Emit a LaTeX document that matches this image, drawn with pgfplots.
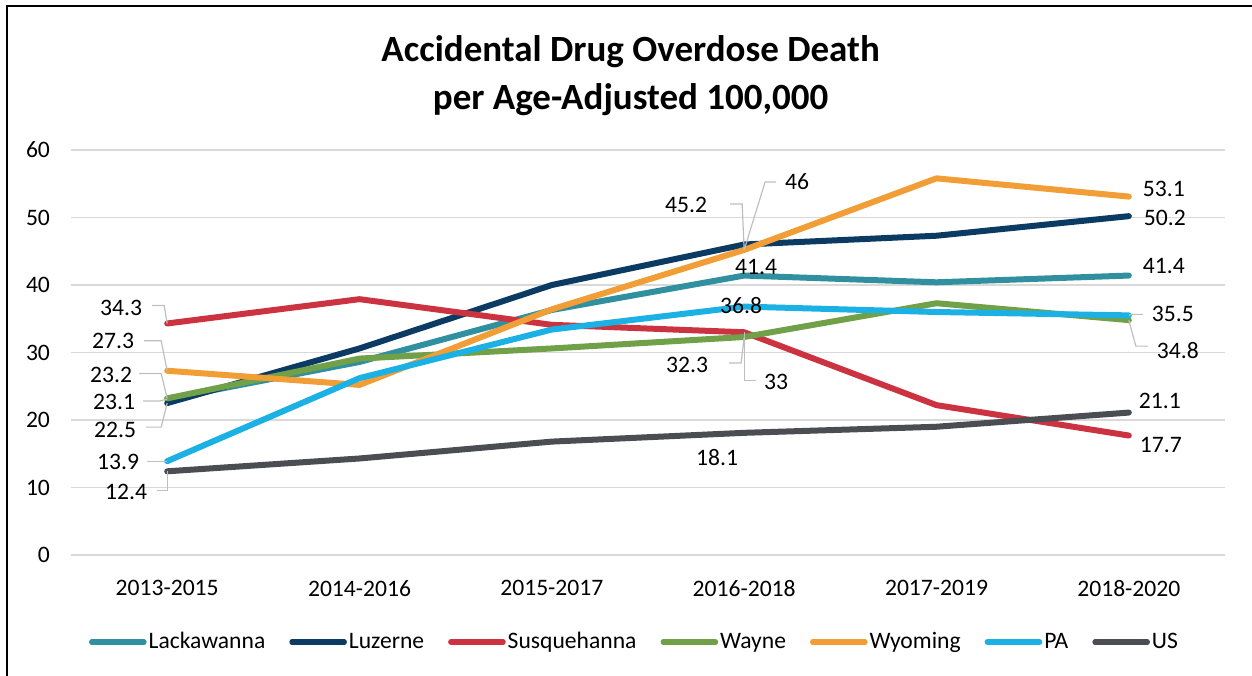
\documentclass[border=0pt]{standalone}
\usepackage{pgfplots}
\pgfplotsset{compat=1.18}
\usepackage{fontspec}
\setmainfont{Carlito}
\definecolor{cLack}{HTML}{31909F}
\definecolor{cLuz}{HTML}{0B3A63}
\definecolor{cSus}{HTML}{CC3340}
\definecolor{cWay}{HTML}{70A047}
\definecolor{cWyo}{HTML}{F09E35}
\definecolor{cPA}{HTML}{1CB1E4}
\definecolor{cUS}{HTML}{4A4D52}
\definecolor{gridgray}{HTML}{D9D9D9}
\definecolor{leadgray}{HTML}{BFBFBF}
\tikzset{
  lbl/.style={font=\fontsize{11.8}{13}\selectfont, inner sep=0pt},
  leader/.style={draw=leadgray, line width=0.6pt},
}
\begin{document}
\begin{tikzpicture}
\path[use as bounding box] (0pt,0pt) rectangle (626pt,337.5pt);
\draw[line width=0.9pt] (3.5pt,-1pt) -- (3.5pt,334.5pt) -- (627pt,334.5pt);
\begin{axis}[
  at={(35.5pt,60pt)}, anchor=south west,
  scale only axis, width=577pt, height=202.5pt,
  xmin=-0.5, xmax=5.5, ymin=0, ymax=60,
  ytick={0,10,...,60},
  xtick={0,...,5},
  xticklabels={2013-2015,2014-2016,2015-2017,2016-2018,2017-2019,2018-2020},
  ymajorgrids, grid style={color=gridgray, line width=0.7pt},
  axis line style={draw=none},
  major tick length=0pt,
  tick label style={font=\fontsize{11.8}{13}\selectfont},
  /pgf/number format/assume math mode=true,
  yticklabel style={xshift=-7pt},
  xticklabel style={yshift=-9pt},
  title={Accidental Drug Overdose Death\\per Age-Adjusted 100,000},
  title style={at={(0.485,1.153)}, anchor=center, align=center,
    font=\fontsize{18.5}{24}\selectfont\bfseries},
  legend columns=-1,
  legend style={at={(0.4883,-0.215)}, anchor=center, draw=none, fill=none,
    font=\fontsize{11.8}{13}\selectfont, nodes={inner sep=1pt},
    /tikz/every even column/.append style={column sep=11pt}},
  legend image code/.code={\draw[#1, line width=2.6pt, line cap=round] (1.3pt,0pt) -- (27.5pt,0pt);},
  every axis plot/.append style={line width=3pt, line cap=round, line join=round, mark=none},
  clip=false,
]
\addplot[cLack] coordinates {(0,23.1) (1,28.6) (2,36.3) (3,41.4) (4,40.4) (5,41.4)};
\addlegendentry{Lackawanna}
\addplot[cLuz] coordinates {(0,22.5) (1,30.6) (2,40.0) (3,46.0) (4,47.3) (5,50.2)};
\addlegendentry{Luzerne}
\addplot[cSus] coordinates {(0,34.3) (1,37.9) (2,34.1) (3,33.0) (4,22.2) (5,17.7)};
\addlegendentry{Susquehanna}
\addplot[cWay] coordinates {(0,23.2) (1,29.1) (2,30.6) (3,32.3) (4,37.3) (5,34.8)};
\addlegendentry{Wayne}
\addplot[cWyo] coordinates {(0,27.3) (1,25.2) (2,36.4) (3,45.2) (4,55.8) (5,53.1)};
\addlegendentry{Wyoming}
\addplot[cPA] coordinates {(0,13.9) (1,26.2) (2,33.4) (3,36.8) (4,36.0) (5,35.5)};
\addlegendentry{PA}
\addplot[cUS] coordinates {(0,12.4) (1,14.3) (2,16.8) (3,18.1) (4,19.0) (5,21.1)};
\addlegendentry{US}

% left labels
\draw[leader] (axis cs:0,34.3) -- ++(-1.5pt,9pt) -- ++(-6pt,0pt);
\node[lbl, xshift=-23pt, yshift=7.75pt] at (axis cs:0,34.3) {34.3};
\draw[leader] (axis cs:0,27.3) -- ++(-3pt,15pt) -- ++(-8.5pt,0pt);
\node[lbl, xshift=-27pt, yshift=15pt] at (axis cs:0,27.3) {27.3};
\draw[leader] (axis cs:0,23.2) -- ++(-3pt,12.5pt) -- ++(-11pt,0pt);
\node[lbl, xshift=-28pt, yshift=11.5pt] at (axis cs:0,23.2) {23.2};
\draw[leader] (axis cs:0,23.1) -- ++(-4pt,-1pt) -- ++(-8pt,0pt);
\node[lbl, xshift=-26.5pt, yshift=-1.5pt] at (axis cs:0,23.1) {23.1};
\draw[leader] (axis cs:0,22.5) -- ++(-3pt,-12pt) -- ++(-7.5pt,0pt);
\node[lbl, xshift=-26pt, yshift=-13.5pt] at (axis cs:0,22.5) {22.5};
\draw[leader] (axis cs:0,13.9) -- ++(-10pt,0pt);
\node[lbl, xshift=-24.5pt, yshift=-0.5pt] at (axis cs:0,13.9) {13.9};
\draw[leader] (axis cs:0,12.4) -- ++(0pt,-9.5pt) -- ++(-5pt,0pt);
\node[lbl, xshift=-20.5pt, yshift=-10.5pt] at (axis cs:0,12.4) {12.4};

% middle labels
\draw[leader] (axis cs:3,45.2) -- ++(-1pt,23pt) -- ++(-6pt,0pt);
\node[lbl, xshift=-29pt, yshift=22.5pt] at (axis cs:3,45.2) {45.2};
\draw[leader] (axis cs:3,45.2) -- ++(10.5pt,34pt) -- ++(5.5pt,0pt);
\node[lbl, xshift=26.5pt, yshift=31.25pt] at (axis cs:3,46) {46};
\node[lbl, xshift=6pt, yshift=4.25pt] at (axis cs:3,41.4) {41.4};
\node[lbl, xshift=-1.5pt, yshift=0.5pt] at (axis cs:3,36.8) {36.8};
\draw[leader] (axis cs:3,32.3) -- ++(-1.5pt,-13pt) -- ++(-6pt,0pt);
\node[lbl, xshift=-28.5pt, yshift=-14pt] at (axis cs:3,32.3) {32.3};
\draw[leader] (axis cs:3,33) -- ++(0pt,-24pt) -- ++(6pt,0pt);
\node[lbl, xshift=16pt, yshift=-25pt] at (axis cs:3,33) {33};
\node[lbl, xshift=-13.5pt, yshift=-12.5pt] at (axis cs:3,18.1) {18.1};

% right labels
\node[lbl, xshift=17.5pt, yshift=3.8pt] at (axis cs:5,53.1) {53.1};
\node[lbl, xshift=18pt, yshift=-0.75pt] at (axis cs:5,50.2) {50.2};
\node[lbl, xshift=17.5pt, yshift=5pt] at (axis cs:5,41.4) {41.4};
\draw[leader] (axis cs:5,35.5) -- ++(1pt,0.5pt) -- ++(6pt,0pt);
\node[lbl, xshift=22pt, yshift=0.5pt] at (axis cs:5,35.5) {35.5};
\draw[leader] (axis cs:5,34.8) -- ++(3.5pt,-13pt) -- ++(6pt,0pt);
\node[lbl, xshift=24.5pt, yshift=-15pt] at (axis cs:5,34.8) {34.8};
\node[lbl, xshift=15.5pt, yshift=6pt] at (axis cs:5,21.1) {21.1};
\node[lbl, xshift=16pt, yshift=-4.5pt] at (axis cs:5,17.7) {17.7};
\end{axis}
\end{tikzpicture}
\end{document}
